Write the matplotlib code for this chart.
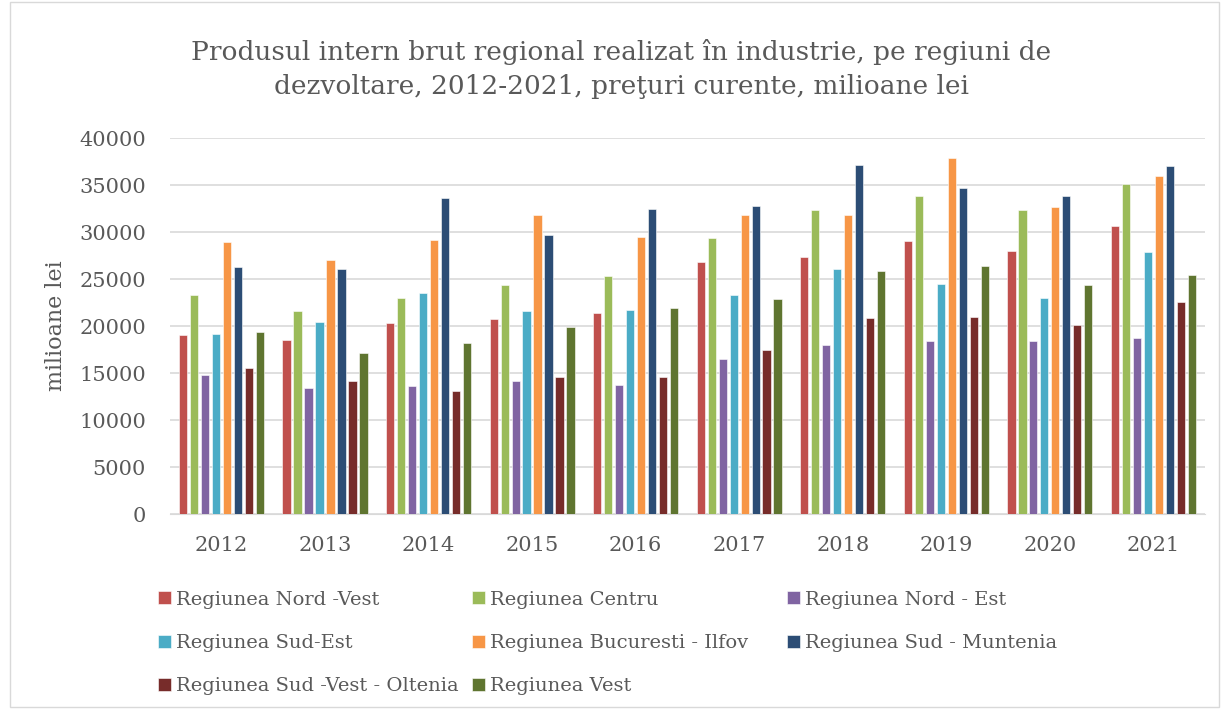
import matplotlib.pyplot as plt
import numpy as np
from matplotlib.patches import Rectangle

# Date
ani = ['2012', '2013', '2014', '2015', '2016', '2017', '2018', '2019', '2020', '2021']
regiuni = ['Regiunea Nord -Vest', 'Regiunea Centru', 'Regiunea Nord - Est',
           'Regiunea Sud-Est', 'Regiunea Bucuresti - Ilfov', 'Regiunea Sud - Muntenia',
           'Regiunea Sud -Vest - Oltenia', 'Regiunea Vest']
nord_vest = [19050, 18560, 20300, 20730, 21440, 26810, 27340, 29050, 28050, 30650]
centru = [23360, 21580, 23000, 24350, 25310, 29370, 32390, 33880, 32350, 35160]
nord_est = [14750, 13440, 13650, 14190, 13760, 16530, 18030, 18450, 18450, 18700]
sud_est = [19200, 20480, 23500, 21580, 21690, 23290, 26090, 24490, 22970, 27840]
bucuresti_ilfov = [28940, 27020, 29190, 31820, 29440, 31790, 31820, 37870, 32640, 35980]
sud_muntenia = [26270, 26130, 33630, 29650, 32460, 32750, 37120, 34700, 33810, 37050]
sud_vest_oltenia = [15500, 14190, 13120, 14540, 14540, 17450, 20910, 21010, 20090, 22540]
vest = [19340, 17170, 18240, 19910, 21900, 22930, 25850, 26410, 24390, 25420]

serii = [nord_vest, centru, nord_est, sud_est, bucuresti_ilfov, sud_muntenia, sud_vest_oltenia, vest]
culori = ['#C0504D', '#9BBB59', '#8064A2', '#4BACC6', '#F79646', '#2C4D75', '#772C2A', '#5F7530']

plt.rcParams['font.family'] = ['DejaVu Serif']
gri = '#595959'

fig = plt.figure(figsize=(12.21, 7.09), dpi=100)
ax = fig.add_axes([0.139, 0.275, 0.848, 0.530])

x = np.arange(len(ani))
pas = 0.106
latime = 0.08
for i, (valori, culoare, nume) in enumerate(zip(serii, culori, regiuni)):
    ax.bar(x + (i - 3.5) * pas, valori, width=latime, color=culoare, label=nume,
           edgecolor='white', linewidth=0.4, zorder=3)

ax.set_xlim(-0.5, len(ani) - 0.5)
ax.set_ylim(0, 40000)
ax.set_yticks(range(0, 40001, 5000))
ax.set_xticks(x)
ax.set_xticklabels(ani)
ax.tick_params(axis='both', length=0, labelsize=15, colors=gri)
ax.tick_params(axis='y', pad=17)
ax.tick_params(axis='x', pad=16)
ax.grid(axis='y', color='#d9d9d9', linewidth=1.2, zorder=0)
for s in ['top', 'right', 'left']:
    ax.spines[s].set_visible(False)
ax.spines['bottom'].set_color('#d9d9d9')
ax.set_ylabel('milioane lei', fontsize=16, color=gri)
ax.yaxis.set_label_coords(-0.099, 0.5)

fig.suptitle('Produsul intern brut regional realizat în industrie, pe regiuni de\n'
             'dezvoltare, 2012-2021, preţuri curente, milioane lei',
             fontsize=19, color=gri, x=0.509, y=0.902, va='center', linespacing=1.45)

# legenda pe trei coloane
handles, labels = ax.get_legend_handles_labels()
coloane = [[0, 3, 6], [1, 4, 7], [2, 5]]
pozitii_x = [158, 472, 787]
for idx, px in zip(coloane, pozitii_x):
    leg = fig.legend([handles[k] for k in idx], [labels[k] for k in idx],
                     loc='upper left', bbox_to_anchor=(px / 1221, 0.167),
                     frameon=False, fontsize=14, labelcolor=gri,
                     handlelength=0.65, handleheight=0.65, handletextpad=0.3,
                     labelspacing=1.3, borderpad=0, borderaxespad=0)

fig.patches.append(Rectangle((0.008, 0.003), 0.99, 0.994, transform=fig.transFigure,
                             fill=False, edgecolor='#d9d9d9', linewidth=1))

plt.savefig('out.png', dpi=100)
